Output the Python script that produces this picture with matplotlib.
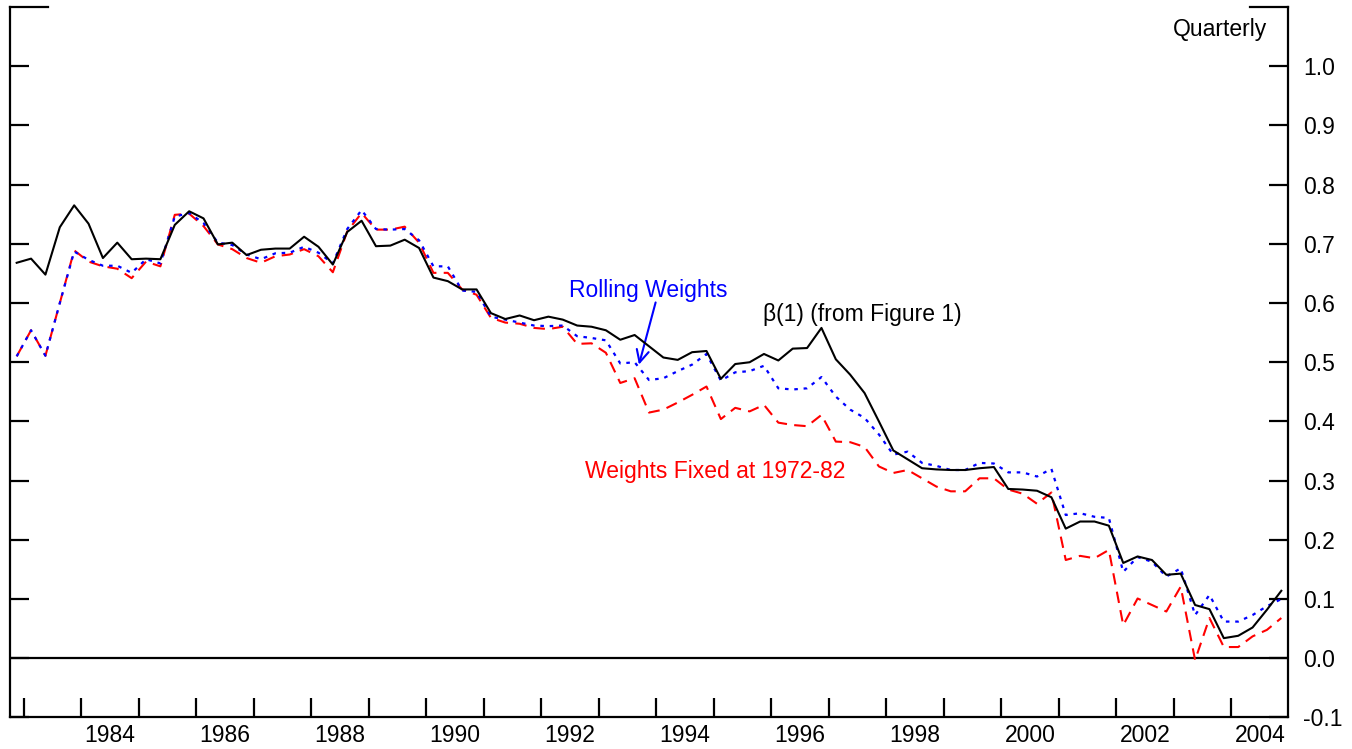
import numpy as np
import matplotlib
matplotlib.use('Agg')
import matplotlib.pyplot as plt
import matplotlib.transforms as mtransforms

plt.rcParams['font.family'] = ['Liberation Sans', 'DejaVu Sans']

# quarterly sample 1982Q4 - 2004Q4
start_year, start_q = 1982, 4
n_obs = 89

# beta(1) from Figure 1
beta1 = [
    0.668, 0.675, 0.648, 0.728, 0.765, 0.734, 0.676, 0.702, 0.674, 0.675,
    0.674, 0.732, 0.755, 0.743, 0.699, 0.702, 0.681, 0.690, 0.692, 0.692,
    0.712, 0.695, 0.665, 0.720, 0.739, 0.696, 0.697, 0.707, 0.693, 0.643,
    0.637, 0.623, 0.623, 0.583, 0.573, 0.579, 0.571, 0.577, 0.572, 0.562,
    0.560, 0.554, 0.538, 0.546, 0.527, 0.508, 0.504, 0.517, 0.519, 0.472,
    0.497, 0.500, 0.514, 0.503, 0.523, 0.524, 0.558, 0.505, 0.479, 0.448,
    0.400, 0.351, 0.336, 0.321, 0.319, 0.318, 0.318, 0.321, 0.323, 0.286,
    0.285, 0.283, 0.272, 0.219, 0.231, 0.231, 0.224, 0.161, 0.172, 0.166,
    0.141, 0.143, 0.090, 0.083, 0.034, 0.038, 0.052, 0.082, 0.114]

# rolling weights
rolling = [
    0.510, 0.554, 0.511, 0.600, 0.687, 0.673, 0.663, 0.663, 0.651, 0.674,
    0.667, 0.746, 0.752, 0.735, 0.702, 0.698, 0.682, 0.674, 0.684, 0.685,
    0.695, 0.685, 0.667, 0.725, 0.757, 0.725, 0.724, 0.725, 0.706, 0.662,
    0.662, 0.621, 0.619, 0.577, 0.572, 0.567, 0.562, 0.561, 0.562, 0.544,
    0.541, 0.537, 0.498, 0.500, 0.470, 0.473, 0.485, 0.496, 0.514, 0.469,
    0.483, 0.485, 0.494, 0.456, 0.454, 0.456, 0.475, 0.442, 0.420, 0.406,
    0.378, 0.344, 0.349, 0.330, 0.325, 0.318, 0.318, 0.330, 0.329, 0.314,
    0.314, 0.307, 0.320, 0.242, 0.245, 0.239, 0.237, 0.146, 0.171, 0.163,
    0.138, 0.152, 0.073, 0.107, 0.062, 0.062, 0.073, 0.088, 0.100]

# weights fixed at 1972-82
fixed = [
    0.510, 0.554, 0.511, 0.600, 0.689, 0.670, 0.662, 0.658, 0.642, 0.670,
    0.662, 0.749, 0.751, 0.730, 0.699, 0.691, 0.676, 0.668, 0.679, 0.682,
    0.691, 0.679, 0.652, 0.721, 0.752, 0.724, 0.724, 0.729, 0.702, 0.651,
    0.651, 0.623, 0.614, 0.575, 0.567, 0.565, 0.558, 0.556, 0.560, 0.531,
    0.532, 0.516, 0.465, 0.473, 0.415, 0.420, 0.432, 0.445, 0.459, 0.404,
    0.423, 0.417, 0.428, 0.398, 0.394, 0.392, 0.411, 0.366, 0.365, 0.357,
    0.324, 0.313, 0.318, 0.304, 0.290, 0.282, 0.282, 0.304, 0.304, 0.285,
    0.278, 0.261, 0.280, 0.166, 0.173, 0.169, 0.183, 0.056, 0.101, 0.090,
    0.079, 0.121, -0.003, 0.068, 0.019, 0.019, 0.037, 0.048, 0.068]

year_labels = list(range(1984, 2005, 2))
y_ticks = [round(-0.1 + 0.1 * k, 1) for k in range(12)]

# points at the middle of each quarter
dates = []
y, q = start_year, start_q
for _ in range(n_obs):
    dates.append(y + (q - 0.5) / 4)
    q += 1
    if q > 4:
        q, y = 1, y + 1
dates = np.array(dates)

fig = plt.figure(figsize=(13.52, 7.49), dpi=100)
ax = fig.add_axes([0.00703, 0.04206, 0.94600, 0.94859])

ax.axhline(0, color='black', lw=1.6, zorder=1)
ax.plot(dates, fixed, color='red', lw=1.5, linestyle=(0, (5.5, 3.5)), zorder=2)
ax.plot(dates, rolling, color='blue', lw=1.6, linestyle=(0, (1.6, 2.6)), zorder=3)
ax.plot(dates, beta1, color='black', lw=1.5, zorder=4)

ax.set_xlim(1982.75, 2005.0)
ax.set_ylim(-0.1, 1.1)

ax.spines['top'].set_visible(False)
for s in ['left', 'right', 'bottom']:
    ax.spines[s].set_linewidth(1.6)

# year ticks at year boundaries, labels centred in the year
ax.set_xticks(range(1983, 2005))
ax.set_xticklabels([])
ax.set_xticks([yr + 0.5 for yr in year_labels], minor=True)
ax.set_xticklabels([str(yr) for yr in year_labels], minor=True)
ax.tick_params(axis='x', which='major', direction='in', length=13.5, width=1.6)
ax.tick_params(axis='x', which='minor', length=0, labelsize=16.5, pad=4.5)

ax.set_yticks(y_ticks)
ax.set_yticklabels(['%.1f' % v for v in y_ticks])
ax.tick_params(axis='y', which='major', direction='in', length=13.5, width=1.6,
               left=True, right=True, labelleft=False, labelright=True,
               labelsize=16.5, pad=10.5)

# longer marks at the top of both axes
trans = mtransforms.blended_transform_factory(ax.transAxes, ax.transData)
ax.plot([0, 0.030], [1.1, 1.1], color='black', lw=1.6, transform=trans, clip_on=False)
ax.plot([0.970, 1.0], [1.1, 1.1], color='black', lw=1.6, transform=trans, clip_on=False)

ax.text(0.983, 0.969, 'Quarterly', transform=ax.transAxes, ha='right', va='center',
        fontsize=16.5)
ax.text(1993.86, 0.622, 'Rolling Weights', color='blue', ha='center', va='center',
        fontsize=16.5)
ax.annotate('', xy=(1993.70, 0.496), xytext=(1993.99, 0.601),
            arrowprops=dict(arrowstyle='->', color='blue', lw=1.5,
                            mutation_scale=22, shrinkA=0, shrinkB=0))
ax.text(1997.58, 0.580, 'β(1) (from Figure 1)', color='black', ha='center',
        va='center', fontsize=16.5)
ax.text(1995.02, 0.315, 'Weights Fixed at 1972-82', color='red', ha='center',
        va='center', fontsize=16.5)

fig.savefig('out.png', dpi=100)
